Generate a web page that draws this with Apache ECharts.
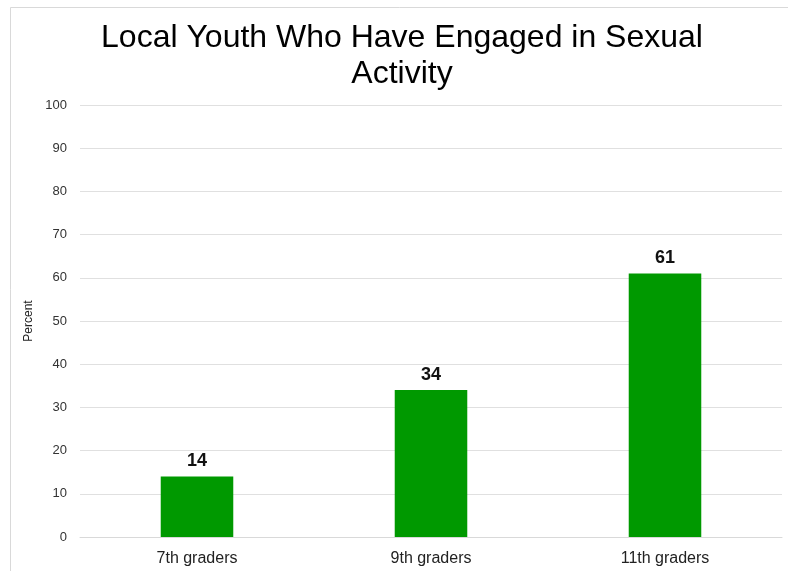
<!DOCTYPE html>
<html>
<head>
<meta charset="utf-8">
<script src="https://cdn.jsdelivr.net/npm/echarts@6/dist/echarts.min.js"></script>
<style>html,body{margin:0;padding:0;background:#fff}#c{width:788px;height:571px}</style>
</head>
<body>
<div id="c"></div>
<script>
const categories = ['7th graders', '9th graders', '11th graders'];
const values = [14, 34, 61];
const titleText = 'Local Youth Who Have Engaged in Sexual\nActivity';
const yAxisName = 'Percent';

const chart = echarts.init(document.getElementById('c'));
chart.setOption({
  animation: false,
  backgroundColor: '#fff',
  graphic: [{
    type: 'rect',
    shape: { x: 10.5, y: 7.5, width: 800, height: 600 },
    style: { fill: 'none', stroke: '#d9d9d9', lineWidth: 1 },
    silent: true
  }],
  title: {
    text: titleText,
    left: 397,
    textAlign: 'center',
    top: 15,
    textStyle: { fontFamily: 'Liberation Sans', fontSize: 32, fontWeight: 'normal', color: '#000', lineHeight: 36 }
  },
  grid: { left: 80, right: 6, top: 105, bottom: 34, containLabel: false },
  xAxis: {
    type: 'category',
    data: categories,
    axisTick: { show: false },
    axisLine: { show: true, lineStyle: { color: '#d9d9d9' } },
    axisLabel: { fontFamily: 'Liberation Sans', fontSize: 16, color: '#222', margin: 14 }
  },
  yAxis: {
    type: 'value',
    min: 0, max: 100, interval: 10,
    name: yAxisName,
    nameLocation: 'middle',
    nameGap: 40,
    nameTextStyle: { fontFamily: 'Liberation Sans', fontSize: 12, color: '#222' },
    axisLine: { show: false },
    axisTick: { show: false },
    axisLabel: { fontFamily: 'Liberation Sans', fontSize: 13, color: '#333', margin: 13 },
    splitLine: { lineStyle: { color: '#e0e0e0' } }
  },
  series: [{
    type: 'bar',
    data: values,
    barWidth: '31%',
    itemStyle: { color: '#009900' },
    label: { show: true, position: 'top', distance: 6, fontFamily: 'Liberation Sans', fontSize: 18, fontWeight: 'bold', color: '#111' }
  }]
});
</script>
</body>
</html>
